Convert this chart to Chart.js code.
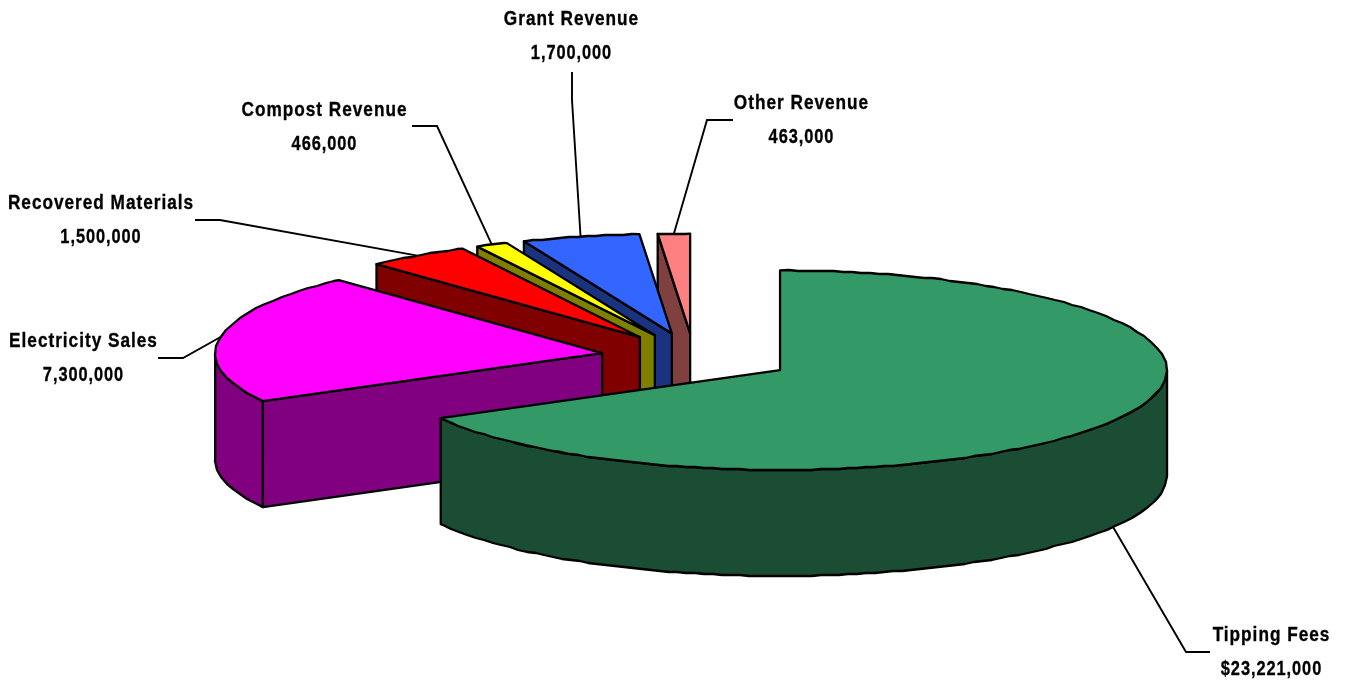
<!DOCTYPE html>
<html>
<head>
<meta charset="utf-8">
<style>
  html, body { margin: 0; padding: 0; background: #fff; overflow: hidden; }
  canvas { display: block; }
</style>
<script src="https://cdn.jsdelivr.net/npm/chart.js@4/dist/chart.umd.min.js"></script>
</head>
<body>
<canvas id="revenue" width="1346" height="681"></canvas>
<script>
// Revenue sources, clockwise from twelve o'clock
const categories = ['Tipping Fees', 'Electricity Sales', 'Recovered Materials', 'Compost Revenue', 'Grant Revenue', 'Other Revenue'];
const revenue = [23221000, 7300000, 1500000, 466000, 1700000, 463000];
const valueLabels = ['$23,221,000', '7,300,000', '1,500,000', '466,000', '1,700,000', '463,000'];
const sliceColors = ['#339966', '#FF00FF', '#FF0000', '#FFFF00', '#3366FF', '#FF8080'];

// Distance each slice is pulled out of the pie
const explode = [100, 93, 94, 93, 94, 92];

// Projection of the tilted pie
const view = { cx: 694, cy: 357, radius: 387, tilt: 0.2577, depth: 106 };

// Label centre and first baseline, then the elbow and tail of the leader line
const labelLayout = [
  { x: 1271.5, y: 641, elbow: [1186, 652], tail: [1210, 652], depthAnchor: true },
  { x: 83.5, y: 347, elbow: [183, 358], tail: [158, 358] },
  { x: 101, y: 209, elbow: [220, 220], tail: [195, 220] },
  { x: 324.5, y: 115.5, elbow: [437, 126], tail: [412, 126] },
  { x: 571.5, y: 25, elbow: [572, 100], tail: [572, 72] },
  { x: 801.5, y: 109, elbow: [707, 120], tail: [733, 120] }
];
const lineGap = 34;
const nameSqueeze = 0.82;
const valueSqueeze = 0.78;

const halve = hex => {
  const n = parseInt(hex.slice(1), 16);
  const c = [(n >> 16) & 255, (n >> 8) & 255, n & 255].map(v => Math.round(v / 2));
  return `rgb(${c[0]},${c[1]},${c[2]})`;
};

const apexOf = (arc, i) => {
  const mid = (arc.startAngle + arc.endAngle) / 2;
  return {
    x: view.cx + explode[i] * Math.cos(mid),
    y: view.cy + explode[i] * Math.sin(mid) * view.tilt
  };
};

const rimPoint = (apex, a) => ({
  x: apex.x + view.radius * Math.cos(a),
  y: apex.y + view.radius * Math.sin(a) * view.tilt
});

// Rim outline walked in even screen-length steps and snapped to whole pixels,
// which gives the slightly faceted edge
const rimPath = (apex, a, b) => {
  const stepPx = 9;
  const pts = [rimPoint(apex, a)];
  let t = a;
  while (true) {
    const speed = Math.hypot(view.radius * Math.sin(t), view.radius * view.tilt * Math.cos(t));
    t += stepPx / speed;
    if (t >= b - 0.005) break;
    const p = rimPoint(apex, t);
    pts.push({ x: Math.round(p.x), y: Math.round(p.y) });
  }
  pts.push(rimPoint(apex, b));
  return pts;
};

const tracePath = (ctx, pts, close) => {
  ctx.beginPath();
  pts.forEach((p, i) => (i ? ctx.lineTo(p.x, p.y) : ctx.moveTo(p.x, p.y)));
  if (close) ctx.closePath();
};

const pie3d = {
  id: 'pie3d',
  beforeDatasetsDraw(chart) {
    const { ctx } = chart;
    const arcs = chart.getDatasetMeta(0).data;
    ctx.save();
    ctx.lineWidth = 2.3;
    ctx.lineJoin = 'round';
    ctx.strokeStyle = '#000';

    // Painter's order: rearmost slice first, the large front slice last
    for (let i = arcs.length - 1; i >= 0; i--) {
      const arc = arcs[i];
      const apex = apexOf(arc, i);
      const a = arc.startAngle, b = arc.endAngle;
      ctx.fillStyle = halve(sliceColors[i]);

      // Radial wall on the leading edge, when it faces the viewer
      if (Math.cos(a) < -1e-6) {
        const rim = rimPoint(apex, a);
        tracePath(ctx, [apex, rim, { x: rim.x, y: rim.y + view.depth }, { x: apex.x, y: apex.y + view.depth }], true);
        ctx.fill();
        ctx.stroke();
      }

      // Curved outer wall: only the part of the rim on the near side
      const from = Math.max(a, 0), to = Math.min(b, Math.PI);
      if (to > from) {
        const top = rimPath(apex, from, to);
        const bottom = top.map(p => ({ x: p.x, y: p.y + view.depth })).reverse();
        tracePath(ctx, top.concat(bottom), true);
        ctx.fill();
        ctx.stroke();
      }

      // Top face, filled by the arc element itself under the tilt transform
      ctx.save();
      ctx.translate(apex.x, apex.y);
      ctx.scale(1, view.tilt);
      ctx.translate(-arc.x, -arc.y);
      arc.draw(ctx);
      ctx.restore();

      // Outline of the top face in screen space, so the pen width stays even
      tracePath(ctx, [apex].concat(rimPath(apex, a, b)), true);
      ctx.stroke();
    }
    ctx.restore();
    return false;
  },
  afterDraw(chart) {
    const { ctx } = chart;
    const arcs = chart.getDatasetMeta(0).data;
    ctx.save();
    ctx.strokeStyle = '#000';
    ctx.fillStyle = '#000';
    ctx.textAlign = 'center';
    ctx.textBaseline = 'alphabetic';
    ctx.font = 'bold 21px "Liberation Sans", Arial, sans-serif';
    ctx.letterSpacing = '1.2px';

    const drawLabel = (text, x, y, squeeze) => {
      ctx.save();
      ctx.translate(x, y);
      ctx.scale(squeeze, 1);
      ctx.lineWidth = 0.35;
      ctx.fillText(text, 0, 0);
      ctx.strokeText(text, 0, 0);
      ctx.restore();
    };

    arcs.forEach((arc, i) => {
      const spot = labelLayout[i];
      const mid = (arc.startAngle + arc.endAngle) / 2;
      const rim = rimPoint(apexOf(arc, i), mid);
      const end = { x: rim.x, y: rim.y + (spot.depthAnchor ? view.depth : 0) };

      ctx.lineWidth = 1.9;
      ctx.beginPath();
      ctx.moveTo(spot.tail[0], spot.tail[1]);
      ctx.lineTo(spot.elbow[0], spot.elbow[1]);
      ctx.lineTo(end.x, end.y);
      ctx.stroke();

      drawLabel(categories[i], spot.x, spot.y, nameSqueeze);
      drawLabel(valueLabels[i], spot.x, spot.y + lineGap, valueSqueeze);
    });
    ctx.restore();
  }
};

new Chart(document.getElementById('revenue'), {
  type: 'pie',
  data: {
    labels: categories,
    datasets: [{
      data: revenue,
      backgroundColor: sliceColors,
      borderWidth: 0,
      radius: view.radius
    }]
  },
  options: {
    responsive: false,
    devicePixelRatio: 1,
    animation: false,
    events: [],
    plugins: { legend: { display: false }, tooltip: { enabled: false } }
  },
  plugins: [pie3d]
});
</script>
</body>
</html>
